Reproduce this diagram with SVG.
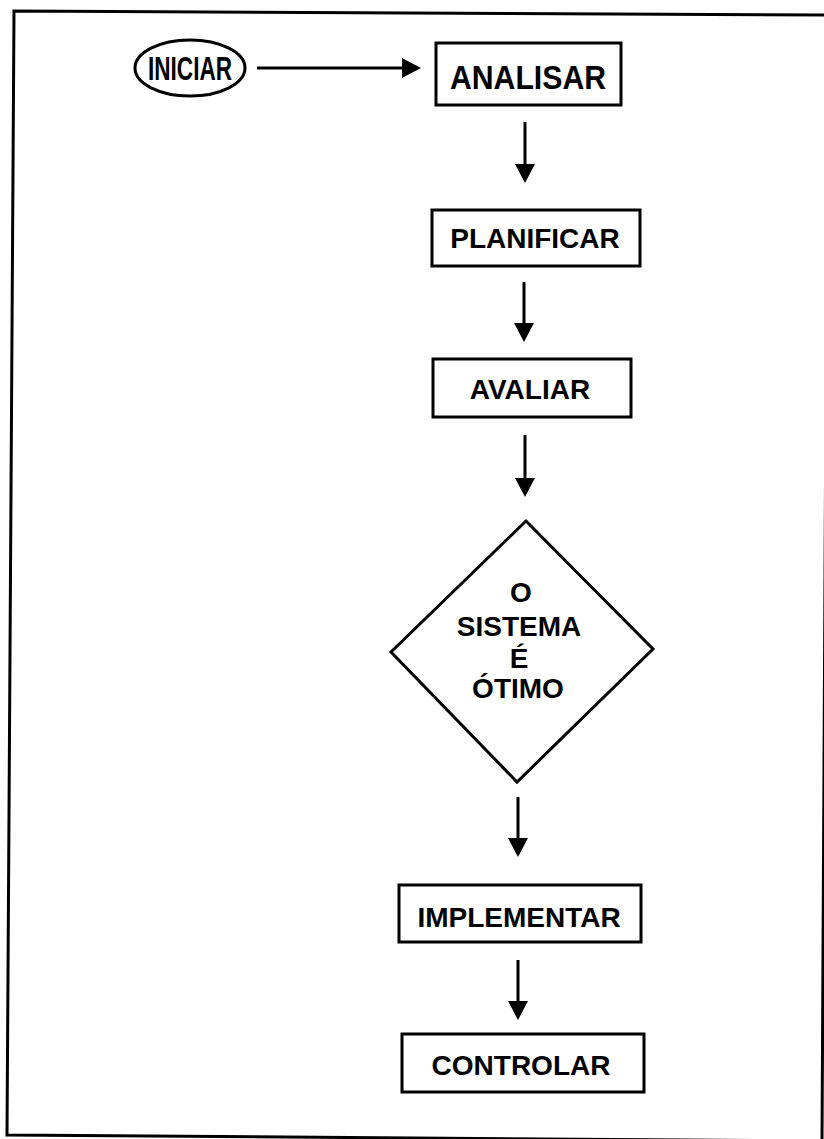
<svg xmlns="http://www.w3.org/2000/svg" width="824" height="1139" viewBox="0 0 824 1139">
<defs>
<style>
.box{fill:#fff;stroke:#000;stroke-width:3}
.lbl{font-family:"Liberation Sans",Arial,sans-serif;font-weight:bold;font-size:28px;fill:#000;text-anchor:middle}
.big{font-size:33px}
.ln{stroke:#000;stroke-width:3;fill:none}
.hd{fill:#000}
</style>
</defs>
<rect width="824" height="1139" fill="#fff"/>
<polygon points="14,11 828,15 822,1141 7,1135" fill="none" stroke="#000" stroke-width="3"/>

<g id="connectors">
<line class="ln" x1="257" y1="68" x2="404" y2="68"/>
<polygon class="hd" points="421,68 402,58 402,78"/>
<line class="ln" x1="525" y1="122" x2="525" y2="166"/>
<polygon class="hd" points="525,183 515,164 535,164"/>
<line class="ln" x1="524" y1="282" x2="524" y2="324"/>
<polygon class="hd" points="524,342 514,323 534,323"/>
<line class="ln" x1="525" y1="435" x2="525" y2="479"/>
<polygon class="hd" points="525,497 515,478 535,478"/>
<line class="ln" x1="518" y1="797" x2="518" y2="839"/>
<polygon class="hd" points="518,857 508,838 528,838"/>
<line class="ln" x1="518" y1="960" x2="518" y2="1002"/>
<polygon class="hd" points="518,1020 508,1001 528,1001"/>
</g>

<g id="iniciar">
<ellipse class="box" cx="190" cy="68" rx="55" ry="28"/>
<text class="lbl big" x="190" y="80" textLength="84" lengthAdjust="spacingAndGlyphs">INICIAR</text>
</g>
<g id="analisar">
<rect class="box" x="436" y="43" width="185" height="62"/>
<text class="lbl big" x="528" y="89" textLength="156" lengthAdjust="spacingAndGlyphs">ANALISAR</text>
</g>
<g id="planificar">
<rect class="box" x="432" y="210" width="208" height="56"/>
<text class="lbl" x="535" y="248">PLANIFICAR</text>
</g>
<g id="avaliar">
<rect class="box" x="433" y="359" width="198" height="58"/>
<text class="lbl" x="530" y="399">AVALIAR</text>
</g>
<g id="decisao">
<polygon class="box" points="526,521 653,649 517,782 391,652"/>
<text class="lbl" x="521" y="602">O</text>
<text class="lbl" x="519" y="636">SISTEMA</text>
<text class="lbl" x="519" y="668">É</text>
<text class="lbl" x="518" y="698">ÓTIMO</text>
</g>
<g id="implementar">
<rect class="box" x="399" y="885" width="242" height="57"/>
<text class="lbl" x="519" y="927">IMPLEMENTAR</text>
</g>
<g id="controlar">
<rect class="box" x="402" y="1034" width="242" height="58"/>
<text class="lbl" x="521" y="1075">CONTROLAR</text>
</g>
</svg>
